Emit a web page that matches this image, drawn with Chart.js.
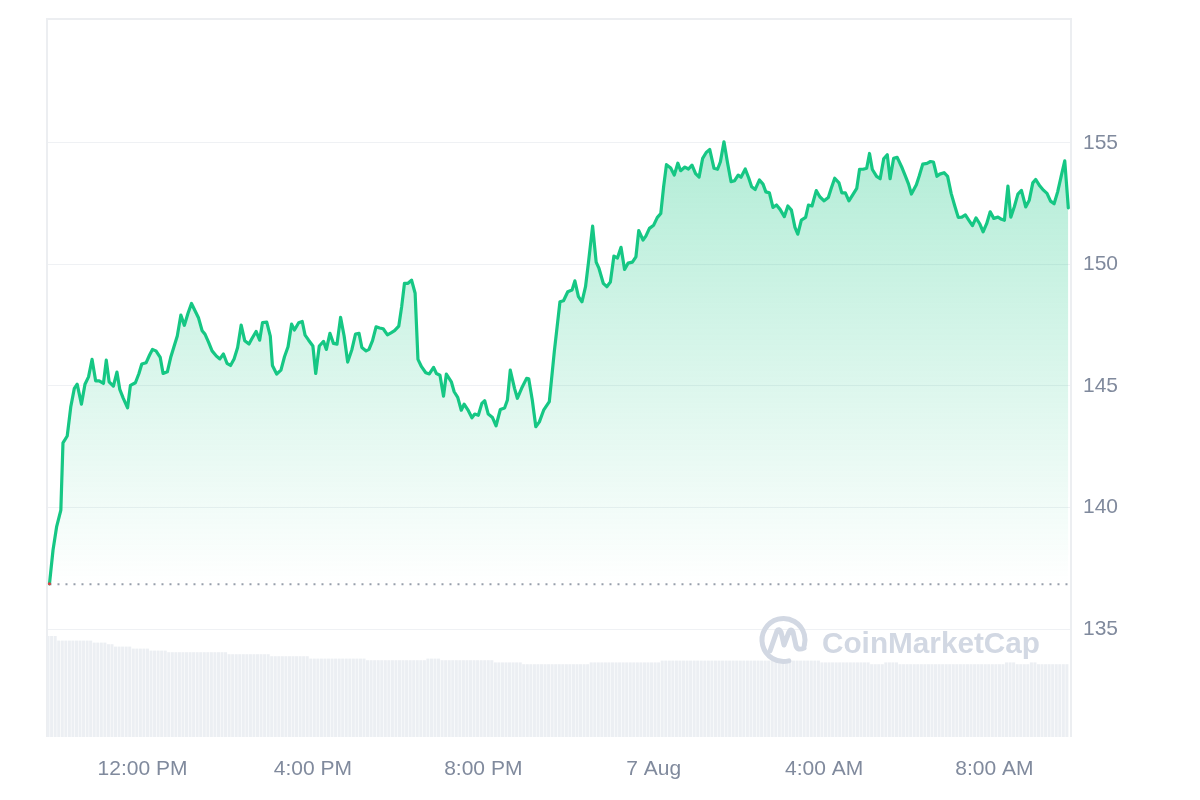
<!DOCTYPE html>
<html>
<head>
<meta charset="utf-8">
<script src="https://cdn.jsdelivr.net/npm/chart.js@4/dist/chart.umd.min.js"></script>
<style>
  html, body { margin: 0; padding: 0; background: #ffffff; }
  #wrap { width: 1200px; height: 800px; }
</style>
</head>
<body>
<div id="wrap"><canvas id="c" width="1200" height="800"></canvas></div>
<script>
// ---- DATA (times = minutes since 00:00, 6 Aug) ----
const priceTimes = [
  589,594,599,605,608,614,619,624,628,634,
  639,644,649,654,659,665,669,673,679,684,
  688,693,699,703,710,715,719,725,730,734,
  739,745,749,755,760,764,769,774,779,784,
  789,794,799,804,808,813,818,824,829,834,
  839,844,849,854,859,864,870,874,880,885,
  889,895,900,903,909,915,920,925,930,934,
  940,945,949,954,960,964,969,975,979,984,
  989,994,999,1004,1009,1015,1020,1025,1029,1035,
  1039,1044,1049,1054,1059,1065,1070,1075,1081,1085,
  1089,1094,1099,1104,1108,1113,1119,1124,1130,1134,
  1139,1144,1148,1155,1159,1164,1169,1173,1179,1184,
  1188,1193,1198,1202,1207,1213,1218,1224,1230,1234,
  1238,1244,1248,1254,1261,1264,1269,1274,1279,1285,1293,
  1300,
  1308,1313,1319,1325,1329,1334,1339,1344,1348,
  1354,1359,1363,1369,1374,1379,1384,1389,1394,1399,
  1404,1410,1415,1419,1425,1429,1434,1440,1445,1450,
  1454,1458,1464,1469,1474,1478,1484,1489,1494,1499,
  1504,1509,1514,1519,1525,1530,1534,1539,1544,1549,
  1554,1559,1563,1569,1574,1578,1583,1589,1594,1598,
  1603,1608,1613,1618,1624,1629,1634,1639,1643,1648,
  1654,1658,1663,1669,1674,1680,1686,1690,1695,1701,
  1705,1710,1715,1721,1726,1730,1735,1740,1744,1748,
  1754,1759,1764,1769,1773,1778,1783,1790,1794,1799,
  1803,1810,1814,1819,1825,1830,1834,1839,1843,1849,
  1854,1859,1864,1869,1874,1879,1884,1889,1894,1899,
  1904,1909,1914,1919,1925,1930,1934,1939,1943,1948,
  1953,1958,1964,1969,1974,1978,1984,1989,1994,1999,
  2004,2009,2014,2019,2024
];
const prices = [
  136.86,138.25,139.20,139.89,142.66,142.94,144.14,144.90,145.07,144.25,
  145.07,145.37,146.09,145.21,145.21,145.10,146.06,145.17,144.99,145.57,
  144.86,144.49,144.10,145.02,145.13,145.51,145.90,145.95,146.27,146.50,
  146.44,146.17,145.51,145.58,146.20,146.58,147.05,147.91,147.49,147.98,
  148.39,148.09,147.79,147.27,147.13,146.80,146.44,146.23,146.11,146.31,
  145.93,145.84,146.11,146.58,147.50,146.86,146.72,146.94,147.24,146.88,
  147.60,147.62,147.05,145.84,145.49,145.65,146.20,146.61,147.54,147.30,
  147.60,147.65,147.09,146.88,146.64,145.51,146.64,146.83,146.50,147.16,
  146.75,146.72,147.82,147.05,145.98,146.50,147.13,147.16,146.58,146.44,
  146.50,146.86,147.43,147.38,147.35,147.10,147.18,147.27,147.46,148.25,
  149.22,149.22,149.35,148.81,146.09,145.79,145.54,145.49,145.76,145.51,
  145.44,144.58,145.49,145.17,144.76,144.53,144.00,144.25,143.98,143.69,
  143.84,143.79,144.28,144.39,143.84,143.70,143.36,144.03,144.09,144.42,
  145.65,144.90,144.49,144.90,145.31,145.29,144.42,143.32,143.52,144.00,144.35,
  146.40,
  148.46,148.50,148.87,148.94,149.32,148.67,148.46,149.08,150.04,
  151.57,150.09,149.83,149.22,149.08,149.27,150.34,150.26,150.70,149.79,
  150.05,150.09,150.31,151.39,151.00,151.16,151.48,151.61,151.92,152.09,
  153.19,154.10,153.96,153.67,154.16,153.85,154.00,153.92,154.08,153.73,
  153.59,154.36,154.60,154.72,153.95,153.91,154.22,155.04,154.18,153.40,
  153.44,153.67,153.58,153.92,153.54,153.19,153.08,153.47,153.30,152.98,
  152.94,152.34,152.44,152.26,151.96,152.40,152.23,151.52,151.24,151.82,
  151.93,152.44,152.40,153.03,152.78,152.61,152.75,153.12,153.54,153.35,
  152.94,152.94,152.61,152.89,153.12,153.91,153.91,153.95,154.56,153.90,
  153.62,153.52,154.34,154.51,153.52,154.36,154.40,153.96,153.67,153.30,
  152.89,153.27,153.63,154.12,154.15,154.23,154.21,153.62,153.71,153.77,
  153.62,152.92,152.41,151.93,151.94,152.03,151.81,151.59,151.91,151.68,
  151.34,151.67,152.16,151.89,151.94,151.85,151.81,153.22,151.94,152.37,
  152.89,153.04,152.36,152.64,153.35,153.49,153.22,153.05,152.92,152.60,
  152.49,152.98,153.63,154.26,152.32
];
const openPrice = 136.84;
// volume, one bar every 5 minutes starting at volumeStart
const volumeStart = 587;
const volumeStep = 5;
const volumes = [
  5.05,5.05,5.05,4.82,4.82,4.82,4.82,4.82,4.82,4.82,
  4.82,4.82,4.82,4.72,4.72,4.72,4.72,4.64,4.64,4.52,
  4.52,4.52,4.52,4.52,4.42,4.42,4.42,4.42,4.42,4.32,
  4.32,4.32,4.32,4.32,4.24,4.24,4.24,4.24,4.24,4.24,
  4.24,4.24,4.24,4.24,4.24,4.24,4.24,4.24,4.24,4.24,
  4.24,4.14,4.14,4.14,4.14,4.14,4.14,4.14,4.14,4.14,
  4.14,4.14,4.14,4.04,4.04,4.04,4.04,4.04,4.04,4.04,
  4.04,4.04,4.04,4.04,3.92,3.92,3.92,3.92,3.92,3.92,
  3.92,3.92,3.92,3.92,3.92,3.92,3.92,3.92,3.92,3.92,
  3.84,3.84,3.84,3.84,3.84,3.84,3.84,3.84,3.84,3.84,
  3.84,3.84,3.84,3.84,3.84,3.84,3.84,3.92,3.92,3.92,
  3.92,3.84,3.84,3.84,3.84,3.84,3.84,3.84,3.84,3.84,
  3.84,3.84,3.84,3.84,3.84,3.84,3.73,3.73,3.73,3.73,
  3.73,3.73,3.73,3.73,3.64,3.64,3.64,3.64,3.64,3.64,
  3.64,3.64,3.64,3.64,3.64,3.64,3.64,3.64,3.64,3.64,
  3.64,3.64,3.64,3.73,3.73,3.73,3.73,3.73,3.73,3.73,
  3.73,3.73,3.73,3.73,3.73,3.73,3.73,3.73,3.73,3.73,
  3.73,3.73,3.73,3.82,3.82,3.82,3.82,3.82,3.82,3.82,
  3.82,3.82,3.82,3.82,3.82,3.82,3.82,3.82,3.82,3.82,
  3.82,3.82,3.82,3.82,3.82,3.82,3.82,3.82,3.82,3.82,
  3.82,3.82,3.82,3.82,3.82,3.82,3.82,3.82,3.82,3.82,
  3.82,3.82,3.82,3.82,3.82,3.82,3.82,3.82,3.73,3.73,
  3.73,3.73,3.73,3.73,3.73,3.73,3.73,3.73,3.73,3.73,
  3.73,3.73,3.64,3.64,3.64,3.64,3.73,3.73,3.73,3.73,
  3.64,3.64,3.64,3.64,3.64,3.64,3.64,3.64,3.64,3.64,
  3.64,3.64,3.64,3.64,3.64,3.64,3.64,3.64,3.64,3.64,
  3.64,3.64,3.64,3.64,3.64,3.64,3.64,3.64,3.64,3.64,
  3.73,3.73,3.73,3.64,3.64,3.64,3.64,3.73,3.73,3.64,
  3.64,3.64,3.64,3.64,3.64,3.64,3.64,3.64
];
const tickValues = [720, 960, 1200, 1440, 1680, 1920];
const tickLabels = ['12:00 PM', '4:00 PM', '8:00 PM', '7 Aug', '4:00 AM', '8:00 AM'];
const priceTicks = [135, 140, 145, 150, 155];

// ---- build ----
const n = Math.min(priceTimes.length, prices.length);
const pricePoints = [];
for (let i = 0; i < n; i++) pricePoints.push({ x: priceTimes[i], y: prices[i] });
const volumePoints = volumes.map((v, i) => ({ x: volumeStart + i * volumeStep, y: v }));
const baseLine = [{ x: priceTimes[0], y: openPrice }, { x: priceTimes[n - 1], y: openPrice }];

const FONT = '"Liberation Sans", Arial, Helvetica, sans-serif';
const GREEN = '#16c784';
const TEXT = '#808a9d';

const framePlugin = {
  id: 'frame',
  beforeDatasetsDraw(chart) {
    const { ctx, chartArea: a } = chart;
    ctx.save();
    ctx.strokeStyle = '#eceef1';
    ctx.lineWidth = 2;
    ctx.beginPath();
    ctx.moveTo(a.left, a.bottom);
    ctx.lineTo(a.left, a.top);
    ctx.lineTo(a.right, a.top);
    ctx.lineTo(a.right, a.bottom);
    ctx.stroke();
    ctx.restore();
  }
};

const watermarkPlugin = {
  id: 'watermark',
  afterDatasetsDraw(chart) {
    const { ctx } = chart;
    ctx.save();
    const col = '#d2d8e3';
    ctx.strokeStyle = col;
    ctx.fillStyle = col;
    ctx.lineWidth = 5;
    ctx.lineCap = 'round';
    ctx.lineJoin = 'round';
    const cx = 783.5, cy = 640, r = 21.5;
    ctx.beginPath();
    ctx.arc(cx, cy, r, 0.42 * Math.PI, 2.08 * Math.PI);
    ctx.stroke();
    ctx.beginPath();
    ctx.moveTo(770, 651);
    ctx.lineTo(777, 631);
    ctx.quadraticCurveTo(779, 628, 781, 632);
    ctx.lineTo(784, 645);
    ctx.lineTo(789, 632);
    ctx.quadraticCurveTo(791, 628, 793, 632);
    ctx.lineTo(796, 646);
    ctx.quadraticCurveTo(798, 651, 804, 648);
    ctx.stroke();
    ctx.font = 'bold 30px ' + FONT;
    ctx.textBaseline = 'alphabetic';
    ctx.textAlign = 'left';
    ctx.fillText('CoinMarketCap', 822, 653, 218);
    ctx.restore();
  }
};

const ctx = document.getElementById('c').getContext('2d');
new Chart(ctx, {
  data: {
    datasets: [
      {
        type: 'line',
        label: 'Price',
        data: pricePoints,
        yAxisID: 'y',
        borderColor: GREEN,
        borderWidth: 3.2,
        borderJoinStyle: 'round',
        borderCapStyle: 'round',
        tension: 0,
        pointRadius: (c) => (c.dataIndex === 0 ? 1.5 : 0),
        pointBackgroundColor: '#ea3943',
        pointBorderWidth: 0,
        fill: { value: openPrice },
        backgroundColor: (c) => {
          const chart = c.chart;
          const a = chart.chartArea;
          if (!a) return 'rgba(22,199,132,0.2)';
          const ys = chart.scales.y;
          const top = ys.getPixelForValue(155);
          const bot = ys.getPixelForValue(openPrice);
          const g = chart.ctx.createLinearGradient(0, top, 0, bot);
          g.addColorStop(0, 'rgba(22,199,132,0.33)');
          g.addColorStop(1, 'rgba(22,199,132,0.0)');
          return g;
        },
        order: 1
      },
      {
        type: 'line',
        label: 'Open',
        data: baseLine,
        yAxisID: 'y',
        borderColor: '#979eab',
        borderWidth: 2,
        borderDash: [2, 6],
        pointRadius: 0,
        fill: false,
        order: 2
      },
      {
        type: 'bar',
        label: 'Volume',
        data: volumePoints,
        yAxisID: 'yv',
        backgroundColor: '#eceff3',
        barPercentage: 1,
        categoryPercentage: 0.85,
        order: 3
      }
    ]
  },
  options: {
    responsive: false,
    animation: false,
    devicePixelRatio: 1,
    layout: { padding: { left: 47, top: 19, right: 0, bottom: 0 } },
    plugins: { legend: { display: false }, tooltip: { enabled: false } },
    scales: {
      x: {
        type: 'linear',
        position: 'bottom',
        offset: false,
        min: 585.5,
        max: 2027.8,
        grid: { display: false, drawTicks: false, offset: false },
        border: { display: false },
        afterBuildTicks: (s) => { s.ticks = tickValues.map(v => ({ value: v })); },
        afterFit: (s) => { s.height = 63; s.paddingLeft = 0; s.paddingRight = 0; },
        ticks: {
          autoSkip: false,
          maxRotation: 0,
          padding: 20,
          color: TEXT,
          font: { family: FONT, size: 21 },
          callback: (v) => { const i = tickValues.indexOf(v); return i >= 0 ? tickLabels[i] : ''; }
        }
      },
      y: {
        type: 'linear',
        position: 'right',
        min: 130.56,
        max: 160.09,
        grid: { color: '#eff1f4', lineWidth: 1, drawTicks: false },
        border: { display: false },
        afterBuildTicks: (s) => { s.ticks = priceTicks.map(v => ({ value: v })); },
        afterFit: (s) => { s.width = 129; s.paddingTop = 0; s.paddingBottom = 0; },
        ticks: {
          padding: 12,
          color: TEXT,
          font: { family: FONT, size: 21 },
          callback: (v) => String(v)
        }
      },
      yv: {
        type: 'linear',
        display: false,
        min: 0,
        max: 35.9
      }
    }
  },
  plugins: [framePlugin, watermarkPlugin]
});
</script>
</body>
</html>
